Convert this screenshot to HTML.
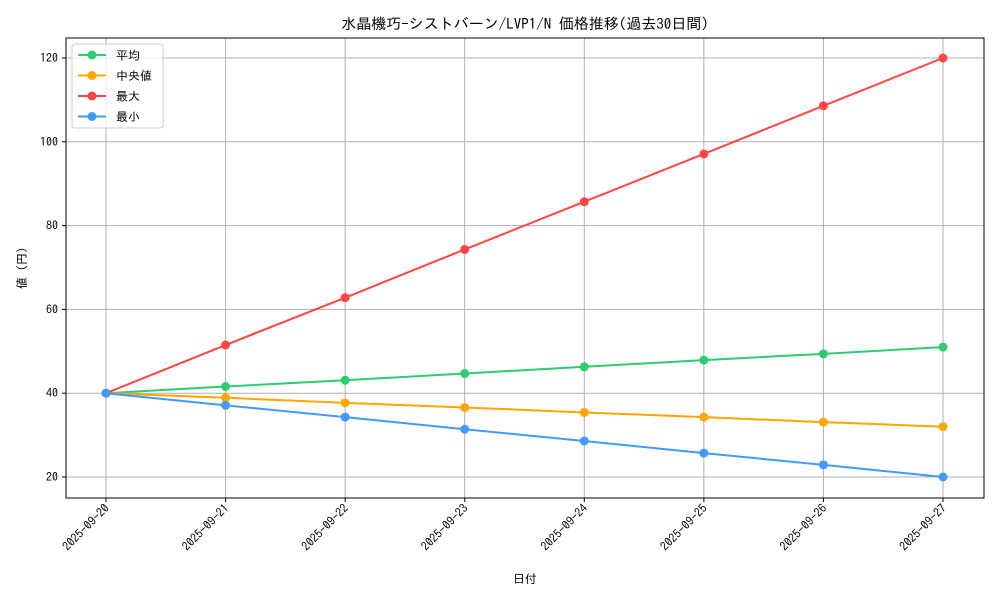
<!DOCTYPE html>
<html><head><meta charset="utf-8"><style>
body{margin:0;background:#fff;}
svg text{font-family:"IPAGothic","Noto Sans CJK JP",sans-serif;fill:#000;}
</style></head><body>
<svg id="chart" width="1000" height="600" xmlns="http://www.w3.org/2000/svg">
<rect width="1000" height="600" fill="#fff"/>
<text x="525" y="29" font-size="15" text-anchor="middle">水晶機巧-シストバーン/LVP1/N 価格推移(過去30日間)</text>
<g id="grid"></g><g id="axes"></g><g id="series"></g>
<rect x="66" y="38" width="918" height="460" fill="none" stroke="#000" stroke-width="1"/>
<text x="525" y="583" font-size="12" text-anchor="middle">日付</text>
<text transform="translate(26,268) rotate(-90)" font-size="12" text-anchor="middle">値 (円)</text>
<g id="legend"></g>
</svg>
<script>
const categories=["2025-09-20","2025-09-21","2025-09-22","2025-09-23","2025-09-24","2025-09-25","2025-09-26","2025-09-27"];
const avgValues=[40,41.6,43.1,44.7,46.3,47.9,49.4,51];
const medianValues=[40,38.9,37.7,36.6,35.4,34.3,33.1,32];
const maxValues=[40,51.5,62.8,74.3,85.7,97.1,108.6,120];
const minValues=[40,37.1,34.3,31.4,28.6,25.7,22.9,20];
const yTicks=[20,40,60,80,100,120];
const seriesNames=["平均","中央値","最大","最小"];
const seriesColors=["#2ecc71","#ffa500","#ff4444","#4499ff"];
const NS="http://www.w3.org/2000/svg";
const x=i=>106+i*(943-106)/(categories.length-1);
const y=v=>477-(v-20)*(477-58)/100;
function mk(t,a,p){const e=document.createElementNS(NS,t);for(const k in a)e.setAttribute(k,a[k]);p.appendChild(e);return e;}
const grid=document.getElementById('grid'),axes=document.getElementById('axes'),ser=document.getElementById('series'),leg=document.getElementById('legend');
categories.forEach((c,i)=>{
 const l=mk('line',{x1:x(i),x2:x(i),y1:38,y2:498,stroke:'#b0b0b0','stroke-width':1},grid);
 
 
 mk('line',{x1:x(i),x2:x(i),y1:498,y2:502,stroke:'#000'},axes);
 const t=mk('text',{'font-size':12,'text-anchor':'end',transform:`translate(${x(i)+4},${509}) rotate(-45)`},axes);
 t.textContent=c;
 
 
});
yTicks.forEach(v=>{
 const l=mk('line',{x1:66,x2:984,y1:y(v),y2:y(v),stroke:'#b0b0b0','stroke-width':1},grid);
 
 
 mk('line',{x1:62,x2:66,y1:y(v),y2:y(v),stroke:'#000'},axes);
 const t=mk('text',{x:58,y:y(v)+4,'font-size':12,'text-anchor':'end'},axes);
 t.textContent=v;
 
 
});
const all=[avgValues,medianValues,maxValues,minValues];
all.forEach((vals,s)=>{
 const g=mk('g',{},ser);
 
 
 mk('polyline',{points:vals.map((v,i)=>x(i)+','+y(v)).join(' '),fill:'none',stroke:seriesColors[s],'stroke-width':2},g);
 vals.forEach((v,i)=>{
  const c=mk('circle',{cx:x(i),cy:y(v),r:4.5,fill:seriesColors[s]},g);
  
  
 });
 const ly=55+s*20.5;
 const le=mk('g',{},leg);
 
 
 mk('line',{x1:78,x2:106,y1:ly,y2:ly,stroke:seriesColors[s],'stroke-width':2},le);
 mk('circle',{cx:92,cy:ly,r:4.5,fill:seriesColors[s]},le);
 const t=mk('text',{x:116,y:ly+4.5,'font-size':12},le);
 t.textContent=seriesNames[s];
});
const box=mk('rect',{x:72,y:44,width:91,height:84,rx:3,fill:'#fff','fill-opacity':0.8,stroke:'#ccc'},leg);
leg.insertBefore(box,leg.firstChild);


</script>
</body></html>
